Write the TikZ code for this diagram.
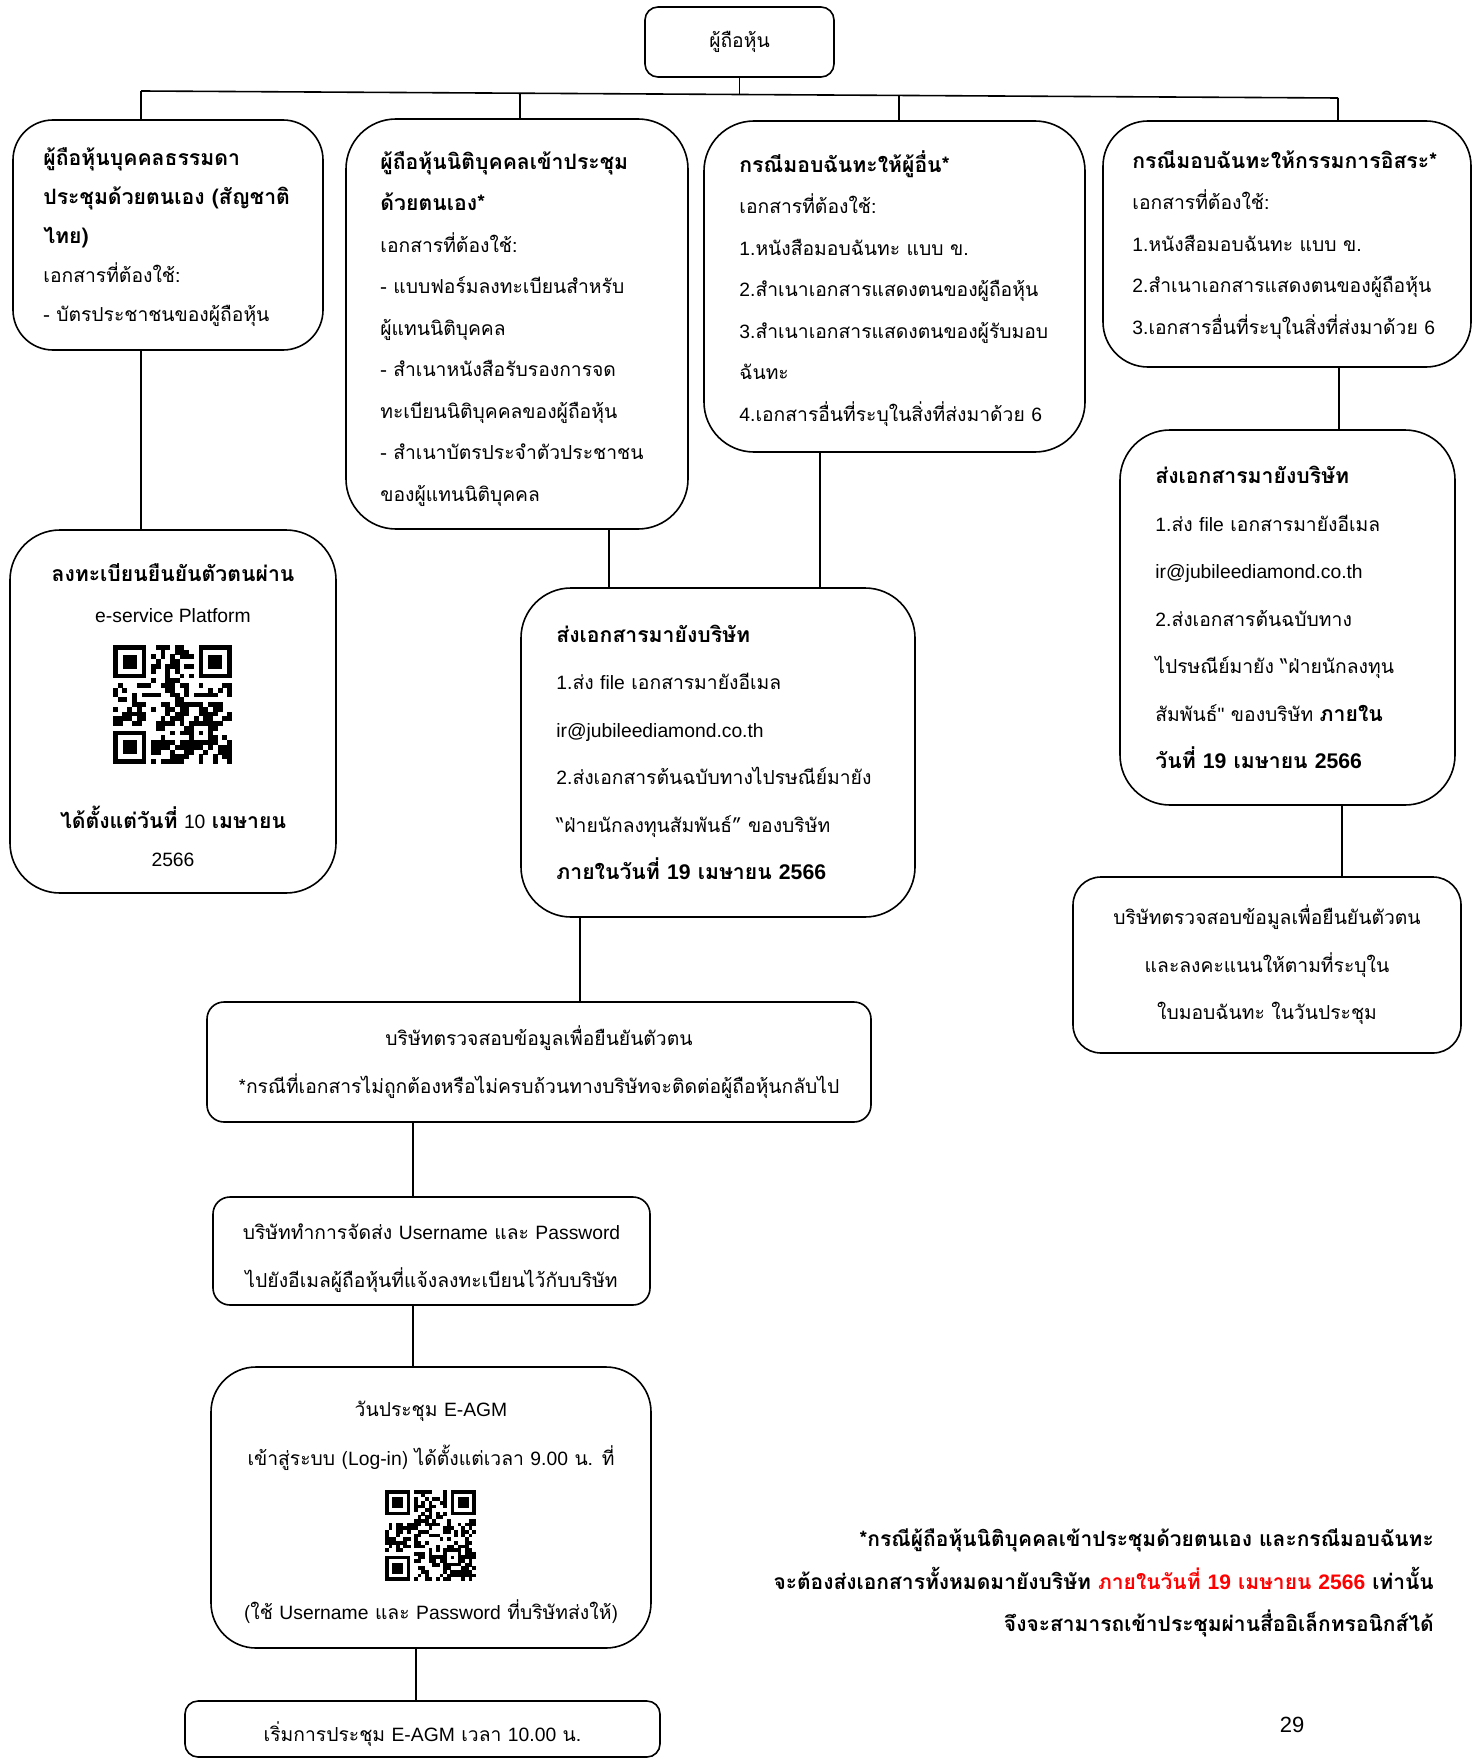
\documentclass[tikz,border=0pt]{standalone}
\usepackage{fontspec}
\setmainfont{Loma}[Script=Thai]
\newfontfamily\enfont{Liberation Sans}
\newcommand\lat[1]{{\enfont #1}}
\newcommand\bh[1]{{\fontsize{21.2}{\the\baselineskip}\selectfont\bfseries #1}}
\usetikzlibrary{calc}
\definecolor{refred}{RGB}{255,0,0}
\newcommand\fakeqr[4]{%
\begin{scope}[shift={(#1,#2)}]
\pgfmathsetseed{#4}
\foreach \i in {0,...,24}{
  \foreach \j in {0,...,24}{
    \pgfmathtruncatemacro\qskip{((\i<8 && \j<8) || (\i>16 && \j<8) || (\i<8 && \j>16) || (\i>15 && \i<21 && \j>15 && \j<21)) ? 1 : 0}
    \pgfmathtruncatemacro\qon{rnd<0.5 ? 1 : 0}
    \ifnum\qskip=0 \ifnum\qon=1 \fill (\i*#3-0.05, \j*#3-0.05) rectangle ++(#3+0.1,#3+0.1); \fi\fi
  }}
\foreach \a/\b in {0/0,18/0,0/18}{
  \fill (\a*#3,\b*#3) rectangle ++(7*#3,7*#3);
  \fill[white] (\a*#3+#3,\b*#3+#3) rectangle ++(5*#3,5*#3);
  \fill (\a*#3+2*#3,\b*#3+2*#3) rectangle ++(3*#3,3*#3);
}
\fill (16*#3,16*#3) rectangle ++(5*#3,5*#3);
\fill[white] (17*#3,17*#3) rectangle ++(3*#3,3*#3);
\fill (18*#3,18*#3) rectangle ++(#3,#3);
\end{scope}}
\begin{document}
\begin{tikzpicture}[x=1pt,y=-1pt,
  box/.style={draw,line width=1.6pt,inner sep=0pt},
  conn/.style={line width=1.6pt},
  tA/.style={inner sep=0pt,align=left,font=\fontsize{19.3}{41.5}\selectfont},
  tB/.style={inner sep=0pt,align=left,font=\fontsize{19.3}{39}\selectfont},
  tC/.style={inner sep=0pt,align=left,font=\fontsize{19.3}{47.5}\selectfont},
  tCc/.style={inner sep=0pt,align=center,font=\fontsize{19.3}{47.5}\selectfont},
  tL/.style={inner sep=0pt,font=\fontsize{19.3}{24}\selectfont}]
\useasboundingbox (0,0) rectangle (1478,1760);
\fill[white] (0,0) rectangle (1478,1760);

% boxes
\node[box,rounded corners=13pt,minimum width=189pt,minimum height=70pt] (top) at (739.5,42) {};
\node[tL] (ttop) at (top.center) {ผู้ถือหุ้น};

\node[box,rounded corners=40pt,minimum width=310pt,minimum height=230pt] (b1) at (168,235) {};
\node[tB,anchor=west] (t1) at ([xshift=31pt,yshift=-2pt]b1.west) {\bh{ผู้ถือหุ้นบุคคลธรรมดา}\\\bh{ประชุมด้วยตนเอง (สัญชาติ}\\\bh{ไทย)}\\เอกสารที่ต้องใช้:\\- บัตรประชาชนของผู้ถือหุ้น};

\node[box,rounded corners=50pt,minimum width=342pt,minimum height=410pt] (b2) at (517,324) {};
\node[tA,anchor=west] (t2) at ([xshift=35pt,yshift=-5pt]b2.west) {\bh{ผู้ถือหุ้นนิติบุคคลเข้าประชุม}\\\bh{ด้วยตนเอง*}\\เอกสารที่ต้องใช้:\\- แบบฟอร์มลงทะเบียนสำหรับ\\ผู้แทนนิติบุคคล\\- สำเนาหนังสือรับรองการจด\\ทะเบียนนิติบุคคลของผู้ถือหุ้น\\- สำเนาบัตรประจำตัวประชาชน\\ของผู้แทนนิติบุคคล};

\node[box,rounded corners=50pt,minimum width=381pt,minimum height=331pt] (b3) at (894.5,286.5) {};
\node[tA,anchor=west] (t3) at ([xshift=36pt,yshift=-2pt]b3.west) {\bh{กรณีมอบฉันทะให้ผู้อื่น*}\\เอกสารที่ต้องใช้:\\\lat{1.}หนังสือมอบฉันทะ แบบ ข.\\\lat{2.}สำเนาเอกสารแสดงตนของผู้ถือหุ้น\\\lat{3.}สำเนาเอกสารแสดงตนของผู้รับมอบ\\ฉันทะ\\\lat{4.}เอกสารอื่นที่ระบุในสิ่งที่ส่งมาด้วย \lat{6}};

\node[box,rounded corners=45pt,minimum width=368pt,minimum height=246pt] (b4) at (1287,244) {};
\node[tA,anchor=west] (t4) at ([xshift=30pt,yshift=-1pt]b4.west) {\bh{กรณีมอบฉันทะให้กรรมการอิสระ*}\\เอกสารที่ต้องใช้:\\\lat{1.}หนังสือมอบฉันทะ แบบ ข.\\\lat{2.}สำเนาเอกสารแสดงตนของผู้ถือหุ้น\\\lat{3.}เอกสารอื่นที่ระบุในสิ่งที่ส่งมาด้วย \lat{6}};

\node[box,rounded corners=50pt,minimum width=326pt,minimum height=363pt] (b5) at (173,711.5) {};
\node[tL] (t5a) at (173,573) {\bh{ลงทะเบียนยืนยันตัวตนผ่าน}};
\node[tL] (t5b) at (173,616) {\lat{e-service Platform}};
\node[tL] (t5c) at (173,817) {\bh{ได้ตั้งแต่วันที่} \lat{10} \bh{เมษายน}};
\node[tL] (t5d) at (173,860) {\lat{2566}};
\fakeqr{113}{645}{4.76}{17}

\node[box,rounded corners=50pt,minimum width=394pt,minimum height=329pt] (b6) at (718,752.5) {};
\node[tC,anchor=west] (t6) at ([xshift=36pt]b6.west) {\bh{ส่งเอกสารมายังบริษัท}\\\lat{1.}ส่ง \lat{file} เอกสารมายังอีเมล\\\lat{ir@jubileediamond.co.th}\\\lat{2.}ส่งเอกสารต้นฉบับทางไปรษณีย์มายัง\\“ฝ่ายนักลงทุนสัมพันธ์” ของบริษัท\\\bh{ภายในวันที่ \lat{19} เมษายน \lat{2566}}};

\node[box,rounded corners=50pt,minimum width=335pt,minimum height=375pt] (b7) at (1287.5,617.5) {};
\node[tC,anchor=west] (t7) at ([xshift=36pt]b7.west) {\bh{ส่งเอกสารมายังบริษัท}\\\lat{1.}ส่ง \lat{file} เอกสารมายังอีเมล\\\lat{ir@jubileediamond.co.th}\\\lat{2.}ส่งเอกสารต้นฉบับทาง\\ไปรษณีย์มายัง “ฝ่ายนักลงทุน\\สัมพันธ์\lat{"} ของบริษัท \bh{ภายใน}\\\bh{วันที่ \lat{19} เมษายน \lat{2566}}};

\node[box,rounded corners=28pt,minimum width=388pt,minimum height=176pt] (b8) at (1267,965) {};
\node[tCc] (t8) at (b8.center) {บริษัทตรวจสอบข้อมูลเพื่อยืนยันตัวตน\\และลงคะแนนให้ตามที่ระบุใน\\ใบมอบฉันทะ ในวันประชุม};

\node[box,rounded corners=17pt,minimum width=664pt,minimum height=120pt] (b9) at (539,1062) {};
\node[tCc] (t9) at (b9.center) {บริษัทตรวจสอบข้อมูลเพื่อยืนยันตัวตน\\*กรณีที่เอกสารไม่ถูกต้องหรือไม่ครบถ้วนทางบริษัทจะติดต่อผู้ถือหุ้นกลับไป};

\node[box,rounded corners=17pt,minimum width=437pt,minimum height=108pt] (b10) at (431.5,1251) {};
\node[tCc] (t10) at ([yshift=-7pt]b10.center) {บริษัททำการจัดส่ง \lat{Username} และ \lat{Password}\\ไปยังอีเมลผู้ถือหุ้นที่แจ้งลงทะเบียนไว้กับบริษัท};

\node[box,rounded corners=45pt,minimum width=440pt,minimum height=281pt] (b11) at (431,1507.5) {};
\node[tL] (t11a) at (431,1411) {วันประชุม \lat{E-AGM}};
\node[tL] (t11b) at (431,1458) {เข้าสู่ระบบ (\lat{Log-in}) ได้ตั้งแต่เวลา \lat{9.00} น. ที่};
\node[tL] (t11c) at (431,1612) {(ใช้ \lat{Username} และ \lat{Password} ที่บริษัทส่งให้)};
\fakeqr{385}{1490}{3.64}{29}

\node[box,rounded corners=13pt,minimum width=475pt,minimum height=56pt] (b12) at (422.5,1729) {};
\node[tL] (t12) at ([yshift=-5pt]b12.center) {เริ่มการประชุม \lat{E-AGM} เวลา \lat{10.00} น.};

% footnote and page number
\node[inner sep=0pt,align=right,anchor=east,font=\fontsize{21}{42.6}\selectfont\bfseries] (note) at (1434,1583) {*กรณีผู้ถือหุ้นนิติบุคคลเข้าประชุมด้วยตนเอง และกรณีมอบฉันทะ\\จะต้องส่งเอกสารทั้งหมดมายังบริษัท {\color{refred}ภายในวันที่ \lat{19} เมษายน \lat{2566}} เท่านั้น\\จึงจะสามารถเข้าประชุมผ่านสื่ออิเล็กทรอนิกส์ได้};
\node[inner sep=0pt,font=\fontsize{22}{26}\selectfont] (pg) at (1292,1725) {\lat{29}};

% connectors
\coordinate (busL) at (141,91);
\coordinate (busR) at (1338,98);
\draw[conn] (busL) -- (busR);
\coordinate (jT) at ($(busL)!0.5!(busR)$);
\coordinate (j2) at ($(busL)!0.3166!(busR)$);
\coordinate (j3) at ($(busL)!0.6333!(busR)$);
\draw[conn] (top.south) -- (jT);
\draw[conn] (busL) -- (busL |- b1.north);
\draw[conn] (j2) -- (j2 |- b2.north);
\draw[conn] (j3) -- (j3 |- b3.north);
\draw[conn] (busR) -- (busR |- b4.north);

\coordinate (x15) at (141,0);
\coordinate (x26) at (609,0);
\coordinate (x36) at (820,0);
\coordinate (x47) at (1339,0);
\coordinate (x78) at (1342,0);
\coordinate (x69) at (580,0);
\coordinate (x910) at (413,0);
\coordinate (x1112) at (416,0);
\draw[conn] (x15 |- b1.south) -- (x15 |- b5.north);
\draw[conn] (x26 |- b2.south) -- (x26 |- b6.north);
\draw[conn] (x36 |- b3.south) -- (x36 |- b6.north);
\draw[conn] (x47 |- b4.south) -- (x47 |- b7.north);
\draw[conn] (x78 |- b7.south) -- (x78 |- b8.north);
\draw[conn] (x69 |- b6.south) -- (x69 |- b9.north);
\draw[conn] (x910 |- b9.south) -- (x910 |- b10.north);
\draw[conn] (x910 |- b10.south) -- (x910 |- b11.north);
\draw[conn] (x1112 |- b11.south) -- (x1112 |- b12.north);
\end{tikzpicture}
\end{document}
